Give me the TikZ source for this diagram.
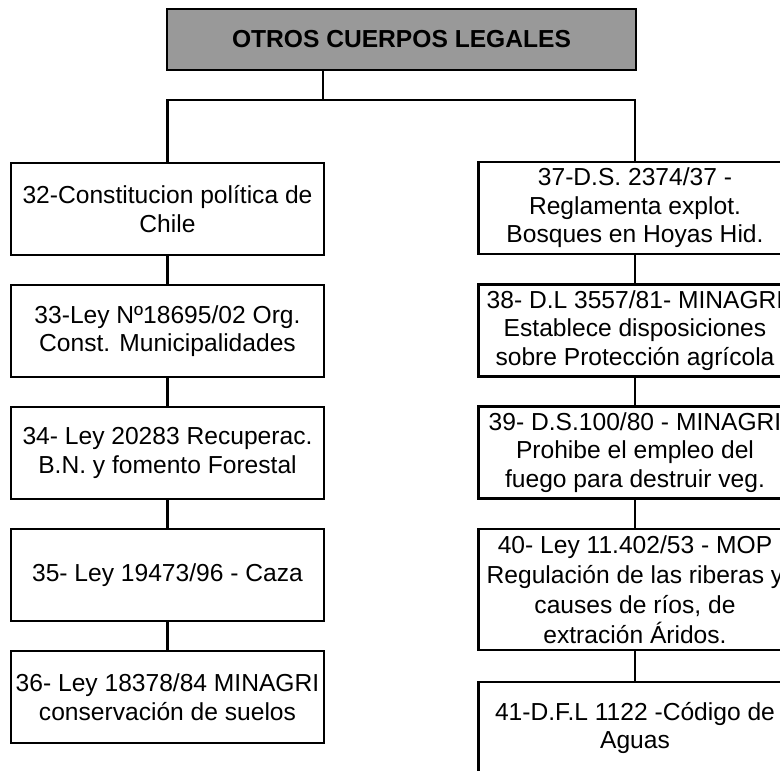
\documentclass[tikz,border=0pt]{standalone}
\usepackage{fontspec}
\setmainfont{Liberation Sans}
\definecolor{titlegray}{RGB}{153,153,153}
\tikzset{
  law/.style={draw=black, line width=2.7pt, minimum width=313pt, minimum height=92pt,
    inner sep=0pt, align=center, font=\fontsize{24.6}{28.5}\selectfont},
  titlebox/.style={draw=black, fill=titlegray, line width=2.7pt, minimum width=469pt,
    minimum height=61pt, inner sep=0pt, align=center, font=\fontsize{24.6}{28.5}\selectfont\bfseries},
  conn/.style={draw=black, line width=2.7pt}
}
\begin{document}
\begin{tikzpicture}[x=1pt,y=-1pt]
\useasboundingbox (0,0) rectangle (780,771);
\clip (0,0) rectangle (780,771);
\node[titlebox] (title) at (401.5,39.5) {OTROS CUERPOS LEGALES};
\coordinate (jn) at (323,100);
% left column
\node[law] (b32) at (167.5,209) {32-Constitucion política de\\Chile};
\node[law] (b33) at (167.5,331) {33-Ley Nº18695/02 Org.\\Const. Municipalidades};
\node[law] (b34) at (167.5,453) {34- Ley 20283 Recuperac.\\B.N. y fomento Forestal};
\node[law] (b35) at (167.5,575) {35- Ley 19473/96 - Caza};
\node[law] (b36) at (167.5,697) {36- Ley 18378/84 MINAGRI\\conservación de suelos};
% right column
\node[law] (b37) at (635,208) {37-D.S. 2374/37 -\\Reglamenta explot.\\Bosques en Hoyas Hid.};
\node[law] (b38) at (635,330.5) {38- D.L 3557/81- MINAGRI\\Establece disposiciones\\sobre Protección agrícola};
\node[law] (b39) at (635,452.5) {39- D.S.100/80 - MINAGRI\\Prohibe el empleo del\\fuego para destruir veg.};
\node[law, minimum height=121pt, font=\fontsize{24.6}{30}\selectfont] (b40) at (635,589.5) {40- Ley 11.402/53 - MOP\\Regulación de las riberas y\\causes de ríos, de\\extración Áridos.};
\node[law] (b41) at (635,728) {41-D.F.L 1122 -Código de\\Aguas};
% connectors
\draw[conn] (title.south -| jn) -- (jn);
\draw[conn] (b32.north) -- (b32.north |- jn) -- (b37.north |- jn) -- (b37.north);
\draw[conn] (b32) -- (b33);
\draw[conn] (b33) -- (b34);
\draw[conn] (b34) -- (b35);
\draw[conn] (b35) -- (b36);
\draw[conn] (b37) -- (b38);
\draw[conn] (b38) -- (b39);
\draw[conn] (b39) -- (b40);
\draw[conn] (b40) -- (b41);
\end{tikzpicture}
\end{document}
